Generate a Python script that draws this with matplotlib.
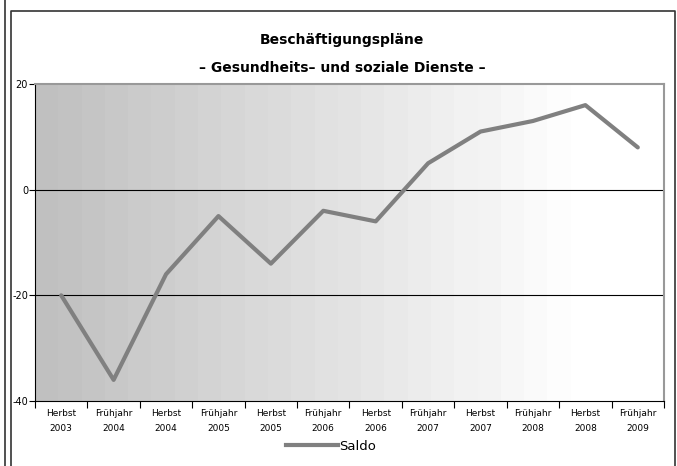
import numpy as np
import matplotlib.pyplot as plt
from matplotlib.lines import Line2D

# Survey waves and net balance of hiring plans
perioden = ['Herbst\n2003', 'Frühjahr\n2004', 'Herbst\n2004', 'Frühjahr\n2005',
            'Herbst\n2005', 'Frühjahr\n2006', 'Herbst\n2006', 'Frühjahr\n2007',
            'Herbst\n2007', 'Frühjahr\n2008', 'Herbst\n2008', 'Frühjahr\n2009']
saldo = [-20, -36, -16, -5, -14, -4, -6, 5, 11, 13, 16, 8]

plt.rcParams['font.family'] = ['Liberation Sans Narrow', 'DejaVu Sans']

W, H = 677, 466
fig = plt.figure(figsize=(W / 100, H / 100), dpi=100)

# frame lines around the chart
fig.add_artist(Line2D([4.5 / W, 4.5 / W], [0, 1], color='#333333', lw=1.2))
fig.add_artist(Line2D([11 / W, 11 / W, 675 / W, 675 / W],
                      [0, 1 - 11 / H, 1 - 11 / H, 0], color='#333333', lw=1.2))

ax = fig.add_axes([35 / W, 65 / H, 629 / W, 317 / H])
x = np.arange(len(saldo))
ax.set_xlim(-0.5, len(saldo) - 0.5)
ax.set_ylim(-40, 20)

# banded horizontal gradient from grey to white
steps = 24
grad = np.linspace(0.75, 1.0, steps)
grad = np.concatenate([grad, np.ones(3)])[None, :]
ax.imshow(grad, cmap='gray', vmin=0, vmax=1, aspect='auto',
          extent=[-0.5, len(saldo) - 0.5, -40, 20], zorder=0, interpolation='nearest')

for yv in (0, -20):
    ax.axhline(yv, color='black', lw=0.8, zorder=1)

ax.plot(x, saldo, color='#808080', lw=3, solid_capstyle='round', zorder=3)

ax.set_yticks([-40, -20, 0, 20])
ax.set_yticklabels(['-40', '-20', '0', '20'], fontsize=7)
ax.tick_params(axis='y', length=4, width=0.8, pad=1)

ax.set_xticks(np.arange(-0.5, len(saldo), 1))
ax.set_xticklabels([])
ax.set_xticks(x, minor=True)
ax.set_xticklabels(perioden, minor=True, fontsize=6.5, linespacing=1.8)
ax.tick_params(axis='x', which='major', length=5, width=0.8, direction='out')
ax.tick_params(axis='x', which='minor', length=0, pad=6)

ax.spines['left'].set_color('black')
ax.spines['bottom'].set_color('black')
ax.spines['top'].set_color('#999999')
ax.spines['right'].set_color('#999999')
ax.spines['top'].set_linewidth(1.5)
ax.spines['right'].set_linewidth(1.5)

fig.text(342 / W, 1 - 40 / H, 'Beschäftigungspläne', ha='center', va='center',
         fontsize=10, fontweight='bold')
fig.text(342 / W, 1 - 68 / H, '– Gesundheits– und soziale Dienste –', ha='center',
         va='center', fontsize=10, fontweight='bold')

fig.legend([Line2D([], [], color='#808080', lw=3)], ['Saldo'],
           loc='center', bbox_to_anchor=(331 / W, 1 - 446 / H), frameon=False,
           fontsize=9.5, handlelength=4, handletextpad=0.1)

fig.savefig('out.png', dpi=100)
